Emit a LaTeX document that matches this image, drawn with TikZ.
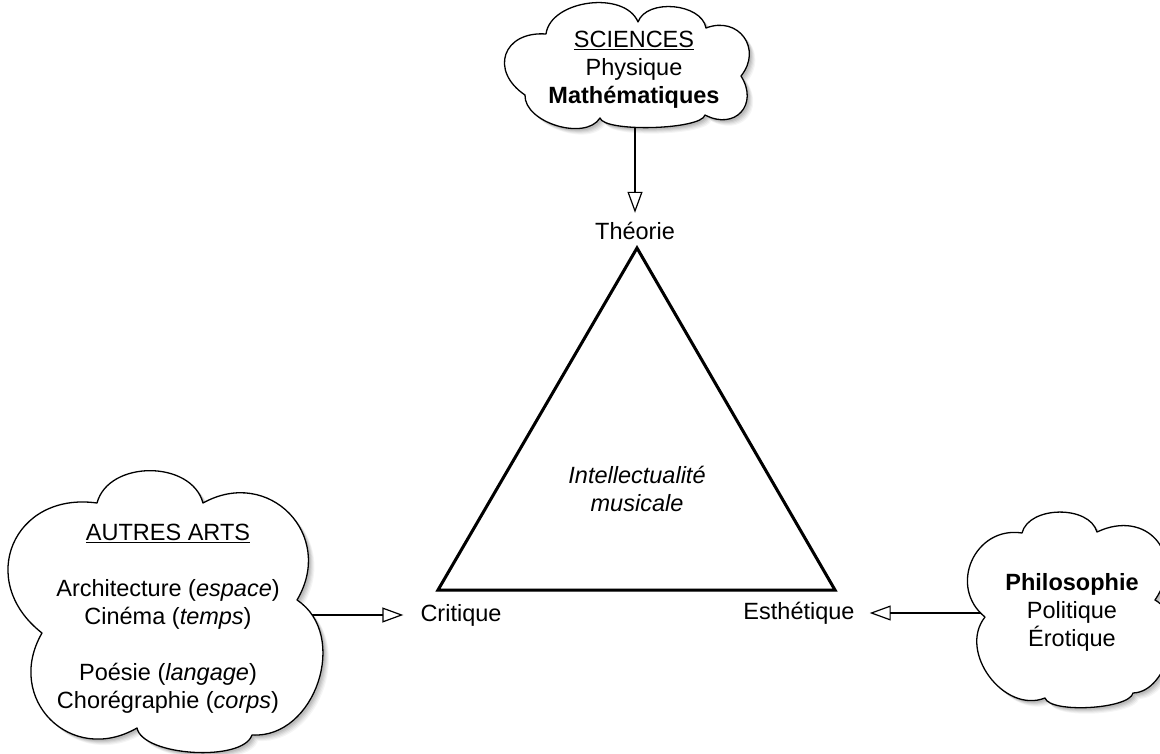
\documentclass[tikz,border=0pt]{standalone}
\usepackage{fontspec}
\setmainfont{Liberation Sans}
\usetikzlibrary{arrows.meta}
\tikzset{
  txt/.style={font=\fontsize{23.5}{28}\selectfont, align=center, inner sep=0pt},
  vlbl/.style={font=\fontsize{23.5}{28}\selectfont, text height=17pt, text depth=5pt, inner xsep=16pt, inner ysep=10pt},
  cloudline/.style={draw=black, line width=1.3pt, fill=white, line join=round},
  cloudshadow/.style={fill=black, opacity=#1, draw=none},
  conn/.style={line width=1.2pt, -{Triangle[open, length=21pt, width=15pt, line width=1.2pt]}},
  pf/.style={bend left=75, looseness=#1},
  tri/.style={line width=3pt, line join=miter},
}
\newcommand\cloudTop{(525,95) to[pf=1.72] (546,34) to[pf=0.95] (638,22) to[pf=0.95] (706,28) to[pf=1.5] (741,76) to[pf=1.63] (705,115) to[pf=0.37] (600,118) to[pf=0.9] (525,95) -- cycle}
\newcommand\cloudLeft{(42,633) to[pf=1.53] (97,503) to[pf=1.08] (203,503) to[pf=1.43] (297,600) to[pf=1.14] (252,735) to[pf=0.64] (137,728) to[pf=1.45] (42,633) -- cycle}
\newcommand\cloudRight{(985,617) to[pf=1.34] (1022,533) to[pf=0.96] (1097,532) to[pf=1.58] (1155,600) to[pf=0.96] (1133,693) to[pf=0.48] (1045,698) to[pf=1.12] (985,617) -- cycle}
\begin{document}
\begin{tikzpicture}[x=1pt, y=-1pt]
\useasboundingbox (0,0) rectangle (1160,754);

% vertex labels
\node[vlbl] (theorie) at (635,234) {Théorie};
\node[vlbl, inner xsep=17pt] (critique) at (461,615) {Critique};
\node[vlbl, inner xsep=15pt] (esth) at (799,613) {Esthétique};

% triangle
\coordinate (A) at (637,248);
\coordinate (B) at (438,590);
\coordinate (C) at (835,590);
\draw[tri, draw=black, opacity=0.12, shift={(2,3)}] (A) -- (B) -- (C) -- cycle;
\draw[tri] (A) -- (B) -- (C) -- cycle;
\node[txt, font=\fontsize{23.5}{28}\selectfont\itshape] (intel) at (637,489) {Intellectualité\\musicale};

% connector starts (inside the clouds)
\coordinate (ts) at (635,110);
\coordinate (ls) at (295,615);
\coordinate (rs) at (995,613);
\draw[conn] (ts) -- (theorie.north);
\draw[conn] (ls) -- (critique.west);
\draw[conn] (rs) -- (esth.east);

% cloud shadows
\foreach \s/\o in {6/0.04, 5/0.05, 4/0.06, 3/0.07, 2/0.08} {
  \fill[cloudshadow=\o, shift={(\s,\s)}] \cloudTop;
  \fill[cloudshadow=\o, shift={(\s,\s)}] \cloudLeft;
  \fill[cloudshadow=\o, shift={(\s,\s)}] \cloudRight;
}
% clouds
\path[cloudline] \cloudTop;
\path[cloudline] \cloudLeft;
\path[cloudline] \cloudRight;

% cloud texts
\node[txt] (sci) at (634,70) {\underline{SCIENCES}\\Physique\\\textbf{Mathématiques}};
\node[txt] (arts) at (168,619) {\underline{AUTRES ARTS}\\[28pt]Architecture (\textit{espace})\\Cinéma (\textit{temps})\\[28pt]Poésie (\textit{langage})\\Chorégraphie (\textit{corps})};
\node[txt] (phil) at (1072,612) {\textbf{Philosophie}\\Politique\\Érotique};
\end{tikzpicture}
\end{document}
